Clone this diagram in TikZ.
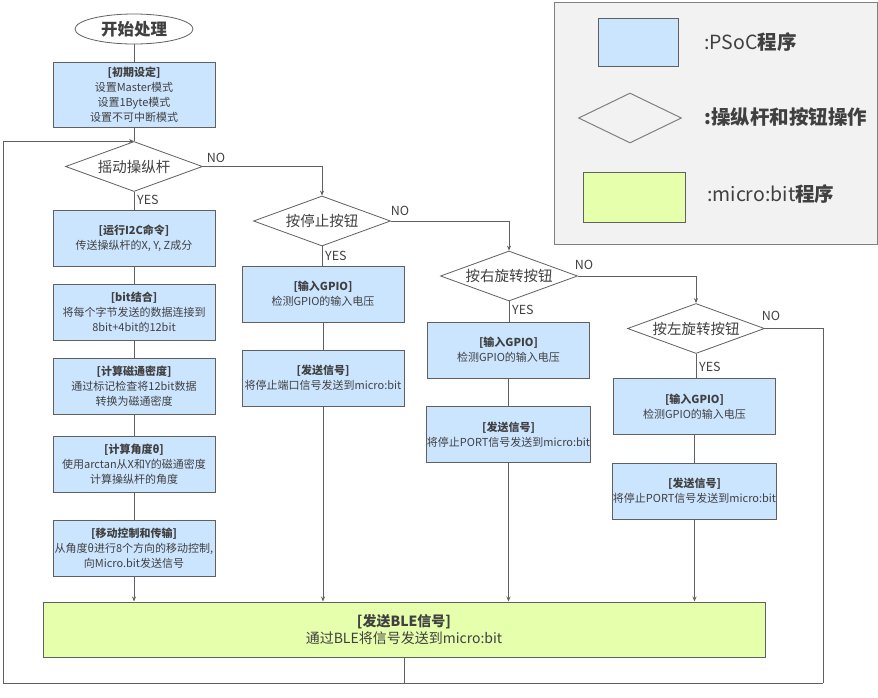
\documentclass[tikz,border=0pt]{standalone}
\usepackage{fontspec}
\setmainfont{Noto Sans CJK SC}
\usetikzlibrary{shapes.geometric,arrows.meta}
\definecolor{psoc}{RGB}{204,229,255}
\definecolor{mbit}{RGB}{230,255,172}
\definecolor{edge}{RGB}{96,96,96}
\definecolor{txt}{RGB}{64,64,64}
\definecolor{legbg}{RGB}{242,242,242}
\definecolor{legedge}{RGB}{128,128,128}
\begin{document}
\begin{tikzpicture}[x=1pt,y=-1pt,
  proc/.style={draw=edge,line width=1pt,fill=psoc,minimum width=162pt,minimum height=56pt,inner sep=0pt,align=center,font=\fontsize{11}{15}\selectfont,text=txt},
  dec/.style={draw=edge,line width=0.8pt,fill=white,diamond,aspect=2.75,minimum width=137pt,minimum height=50pt,inner sep=1pt,font=\fontsize{14.5}{17}\selectfont,text=txt},
  conn/.style={draw=edge,line width=0.8pt},
  arr/.style={conn,-{Stealth[length=5pt,width=4pt]}},
  lab/.style={font=\fontsize{12.5}{14}\selectfont,text=txt,inner sep=0pt},
  legtxt/.style={font=\fontsize{19.5}{22}\selectfont,text=txt,inner sep=0pt,anchor=west},
]
\useasboundingbox (0,0) rectangle (878,697);

% legend
\node[draw=legedge,line width=1.3pt,fill=legbg,minimum width=323pt,minimum height=242pt,anchor=north west,inner sep=0pt] (legend) at (554,1.5) {};
\node[draw=edge,line width=1pt,fill=psoc,minimum width=80pt,minimum height=48pt,inner sep=0pt] (legp) at (638,42) {};
\node[draw=legedge,line width=1pt,diamond,minimum width=103pt,minimum height=50pt,inner sep=0pt] (legd) at (630,118) {};
\node[draw=edge,line width=1pt,fill=mbit,minimum width=102pt,minimum height=50pt,inner sep=0pt] (legm) at (634,197) {};
\node[legtxt] (legpt) at (704,42) {:PSoC\textbf{程序}};
\node[legtxt] (legdt) at (704,117) {\textbf{:操纵杆和按钮操作}};
\node[legtxt] (legmt) at (707,194) {:micro:bit\textbf{程序}};

% main column
\node[ellipse,draw=edge,line width=0.8pt,fill=white,minimum width=118pt,minimum height=30pt,inner sep=0pt,font=\fontsize{16.5}{18}\selectfont\bfseries,text=txt] (start) at (134,29) {开始处理};
\node[proc,minimum height=65pt] (init) at (134,94.5) {\textbf{[初期设定]}\\设置Master模式\\设置1Byte模式\\设置不可中断模式};
\node[dec] (d1) at (134,166.5) {摇动操纵杆};
\node[proc] (i2c) at (134,238) {\textbf{[运行I2C命令]}\\传送操纵杆的X, Y, Z成分};
\node[proc] (bit) at (134,312) {\textbf{[bit结合]}\\将每个字节发送的数据连接到\\8bit+4bit的12bit};
\node[proc] (flux) at (134,386) {\textbf{[计算磁通密度]}\\通过标记检查将12bit数据\\转换为磁通密度};
\node[proc] (ang) at (134,464) {\textbf{[计算角度θ]}\\使用arctan从X和Y的磁通密度\\计算操纵杆的角度};
\node[proc] (move) at (134,548) {\textbf{[移动控制和传输]}\\从角度θ进行8个方向的移动控制,\\向Micro.bit发送信号};

% column 2
\node[dec] (d2) at (322,221) {按停止按钮};
\node[proc] (g1) at (323,294) {\textbf{[输入GPIO]}\\检测GPIO的输入电压};
\node[proc] (s1) at (323,378) {\textbf{[发送信号]}\\将停止端口信号发送到micro:bit};

% column 3
\node[dec] (d3) at (509,276) {按右旋转按钮};
\node[proc] (g2) at (508.5,350) {\textbf{[输入GPIO]}\\检测GPIO的输入电压};
\node[proc] (s2) at (508.5,434.5) {\textbf{[发送信号]}\\将停止PORT信号发送到micro:bit};

% column 4
\node[dec] (d4) at (696,328.5) {按左旋转按钮};
\node[proc] (g3) at (694.5,406.5) {\textbf{[输入GPIO]}\\检测GPIO的输入电压};
\node[proc] (s3) at (694.5,491) {\textbf{[发送信号]}\\将停止PORT信号发送到micro:bit};

% BLE
\node[draw=edge,line width=1pt,fill=mbit,minimum width=722pt,minimum height=55pt,inner sep=0pt,align=center,font=\fontsize{14}{17}\selectfont,text=txt] (ble) at (404,629.5) {\textbf{[发送BLE信号]}\\通过BLE将信号发送到micro:bit};

\coordinate (br) at (823,683);
\coordinate (bl) at (3,683);

% connectors
\draw[conn] (start) -- (init);
\draw[conn] (init) -- (d1);
\draw[conn] (d1) -- (i2c);
\draw[conn] (i2c) -- (bit);
\draw[conn] (bit) -- (flux);
\draw[conn] (flux) -- (ang);
\draw[conn] (ang) -- (move);
\draw[arr] (move.south) -- (move.south |- ble.north);

\draw[arr] (d1.east) -| (d2.north);
\draw[conn] (d2.south) -- (d2.south |- g1.north);
\draw[conn] (g1) -- (s1);
\draw[arr] (s1.south) -- (s1.south |- ble.north);

\draw[arr] (d2.east) -| (d3.north);
\draw[conn] (d3.south) -- (d3.south |- g2.north);
\draw[conn] (g2) -- (s2);
\draw[arr] (s2.south) -- (s2.south |- ble.north);

\draw[arr] (d3.east) -| (d4.north);
\draw[conn] (d4.south) -- (d4.south |- g3.north);
\draw[conn] (g3) -- (s3);
\draw[arr] (s3.south) -- (s3.south |- ble.north);

\draw[conn] (d4.east) -| (br);
\draw[conn] (ble.south) -- (ble.south |- br);
\draw[arr] (br) -- (bl) |- (d1.north);

% labels
\node[lab] (no1) at (216,158) {NO};
\node[lab,anchor=west] (yes1) at (137,200) {YES};
\node[lab] (no2) at (400,211) {NO};
\node[lab,anchor=west] (yes2) at (325,256) {YES};
\node[lab] (no3) at (584,265) {NO};
\node[lab,anchor=west] (yes3) at (512,310) {YES};
\node[lab] (no4) at (771,316) {NO};
\node[lab,anchor=west] (yes4) at (699,367) {YES};
\end{tikzpicture}
\end{document}
